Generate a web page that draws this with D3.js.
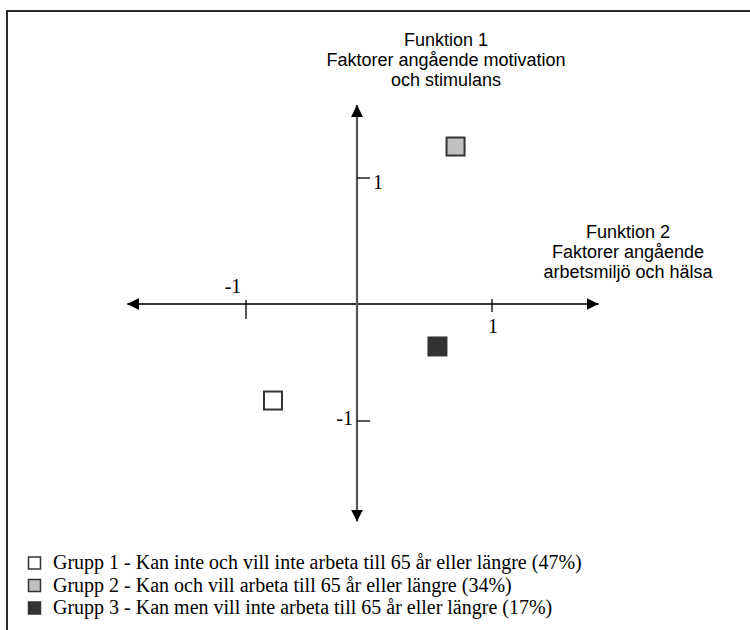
<!DOCTYPE html>
<html>
<head>
<meta charset="utf-8">
<script src="https://cdn.jsdelivr.net/npm/d3@7"></script>
<style>
  html, body { margin: 0; padding: 0; background: #fff; }
  svg { display: block; }
</style>
</head>
<body>
<svg id="chart" width="750" height="630"></svg>
<script>
// ---- data ----
const groups = ["Grupp 1", "Grupp 2", "Grupp 3"];
const legendLabels = [
  "Grupp 1 - Kan inte och vill inte arbeta till 65 år eller längre (47%)",
  "Grupp 2 - Kan och vill arbeta till 65 år eller längre (34%)",
  "Grupp 3 - Kan men vill inte arbeta till 65 år eller längre (17%)"
];
const funktion2Values = [-0.757, 0.73, 0.596];   // x
const funktion1Values = [-0.825, 1.25, -0.363];  // y
const groupColors = ["#ffffff", "#c0c0c0", "#333333"];
const tickValues = [-1, 1];
const tickLabels = ["-1", "1"];
const xAxisExtent = [-2.07, 1.79];
const yAxisExtent = [-1.86, 1.58];
const yTitleLines = ["Funktion 1", "Faktorer angående motivation", "och stimulans"];
const xTitleLines = ["Funktion 2", "Faktorer angående", "arbetsmiljö och hälsa"];

// ---- scales (hand-drawn diagram: unequal unit lengths on each side) ----
const x = d3.scaleLinear().domain([-1, 0, 1]).range([246, 357, 492]);
const y = d3.scaleLinear().domain([-1, 0, 1]).range([421, 304, 178]);

const svg = d3.select("#chart");
const sans = "'Liberation Sans', Arial, sans-serif";
const serif = "'Liberation Serif', 'Times New Roman', serif";

// frame
svg.append("rect")
  .attr("x", 7).attr("y", 11).attr("width", 800).attr("height", 700)
  .attr("fill", "none").attr("stroke", "#2a2a2a").attr("stroke-width", 2);

// arrow markers
const defs = svg.append("defs");
defs.append("marker")
  .attr("id", "arrow").attr("viewBox", "0 0 12 12")
  .attr("refX", 12).attr("refY", 6)
  .attr("markerWidth", 12).attr("markerHeight", 12)
  .attr("markerUnits", "userSpaceOnUse")
  .attr("orient", "auto-start-reverse")
  .append("path").attr("d", "M0,0 L12,6 L0,12 Z").attr("fill", "#000");

// axes lines
svg.append("line")
  .attr("x1", x(xAxisExtent[0])).attr("x2", x(xAxisExtent[1]))
  .attr("y1", y(0)).attr("y2", y(0))
  .attr("stroke", "#3a3a3a").attr("stroke-width", 2)
  .attr("marker-start", "url(#arrow)").attr("marker-end", "url(#arrow)");
svg.append("line")
  .attr("x1", x(0)).attr("x2", x(0))
  .attr("y1", y(yAxisExtent[0])).attr("y2", y(yAxisExtent[1]))
  .attr("stroke", "#555").attr("stroke-width", 2.2)
  .attr("marker-start", "url(#arrow)").attr("marker-end", "url(#arrow)");

// x ticks
const xTickSpan = [[-4, 15], [-5, 8]];
tickValues.forEach((v, i) => {
  svg.append("line")
    .attr("x1", x(v)).attr("x2", x(v))
    .attr("y1", y(0) + xTickSpan[i][0]).attr("y2", y(0) + xTickSpan[i][1])
    .attr("stroke", "#000").attr("stroke-width", 1.3);
});
svg.append("text").attr("x", x(-1) - 13).attr("y", y(0) - 11)
  .attr("text-anchor", "middle").attr("font-family", serif).attr("font-size", 20)
  .text(tickLabels[0]);
svg.append("text").attr("x", x(1) + 1).attr("y", y(0) + 29)
  .attr("text-anchor", "middle").attr("font-family", serif).attr("font-size", 20)
  .text(tickLabels[1]);

// y ticks
tickValues.forEach((v) => {
  svg.append("line")
    .attr("x1", x(0)).attr("x2", x(0) + 13)
    .attr("y1", y(v)).attr("y2", y(v))
    .attr("stroke", "#000").attr("stroke-width", 1.3);
});
svg.append("text").attr("x", x(0) + 16).attr("y", y(1) + 11)
  .attr("font-family", serif).attr("font-size", 20).text(tickLabels[1]);
svg.append("text").attr("x", x(0) - 4).attr("y", y(-1) + 4)
  .attr("text-anchor", "end").attr("font-family", serif).attr("font-size", 20).text(tickLabels[0]);

// axis titles
svg.append("text").attr("text-anchor", "middle")
  .attr("font-family", sans).attr("font-size", 18)
  .selectAll("tspan").data(yTitleLines).join("tspan")
  .attr("x", 446).attr("y", (d, i) => 46 + i * 20).text(d => d);
svg.append("text").attr("text-anchor", "middle")
  .attr("font-family", sans).attr("font-size", 18)
  .selectAll("tspan").data(xTitleLines).join("tspan")
  .attr("x", 628).attr("y", (d, i) => 238 + i * 20).text(d => d);

// points
const pts = groups.map((g, i) => ({ g, fx: funktion2Values[i], fy: funktion1Values[i], c: groupColors[i] }));
const size = 18;
svg.selectAll("rect.pt").data(pts).join("rect")
  .attr("class", "pt")
  .attr("x", d => x(d.fx) - size / 2).attr("y", d => y(d.fy) - size / 2)
  .attr("width", size).attr("height", size)
  .attr("fill", d => d.c).attr("stroke", "#333").attr("stroke-width", 2);

// legend
const leg = svg.append("g");
const rows = leg.selectAll("g").data(legendLabels).join("g")
  .attr("transform", (d, i) => `translate(0, ${569 + i * 22.5})`);
rows.append("rect")
  .attr("x", 28.5).attr("y", -12).attr("width", 12).attr("height", 12)
  .attr("fill", (d, i) => groupColors[i]).attr("stroke", "#333").attr("stroke-width", 1.5);
rows.append("text").attr("x", 53).attr("y", 0)
  .attr("font-family", serif).attr("font-size", 20).attr("fill", "#000")
  .text(d => d);
</script>
</body>
</html>
